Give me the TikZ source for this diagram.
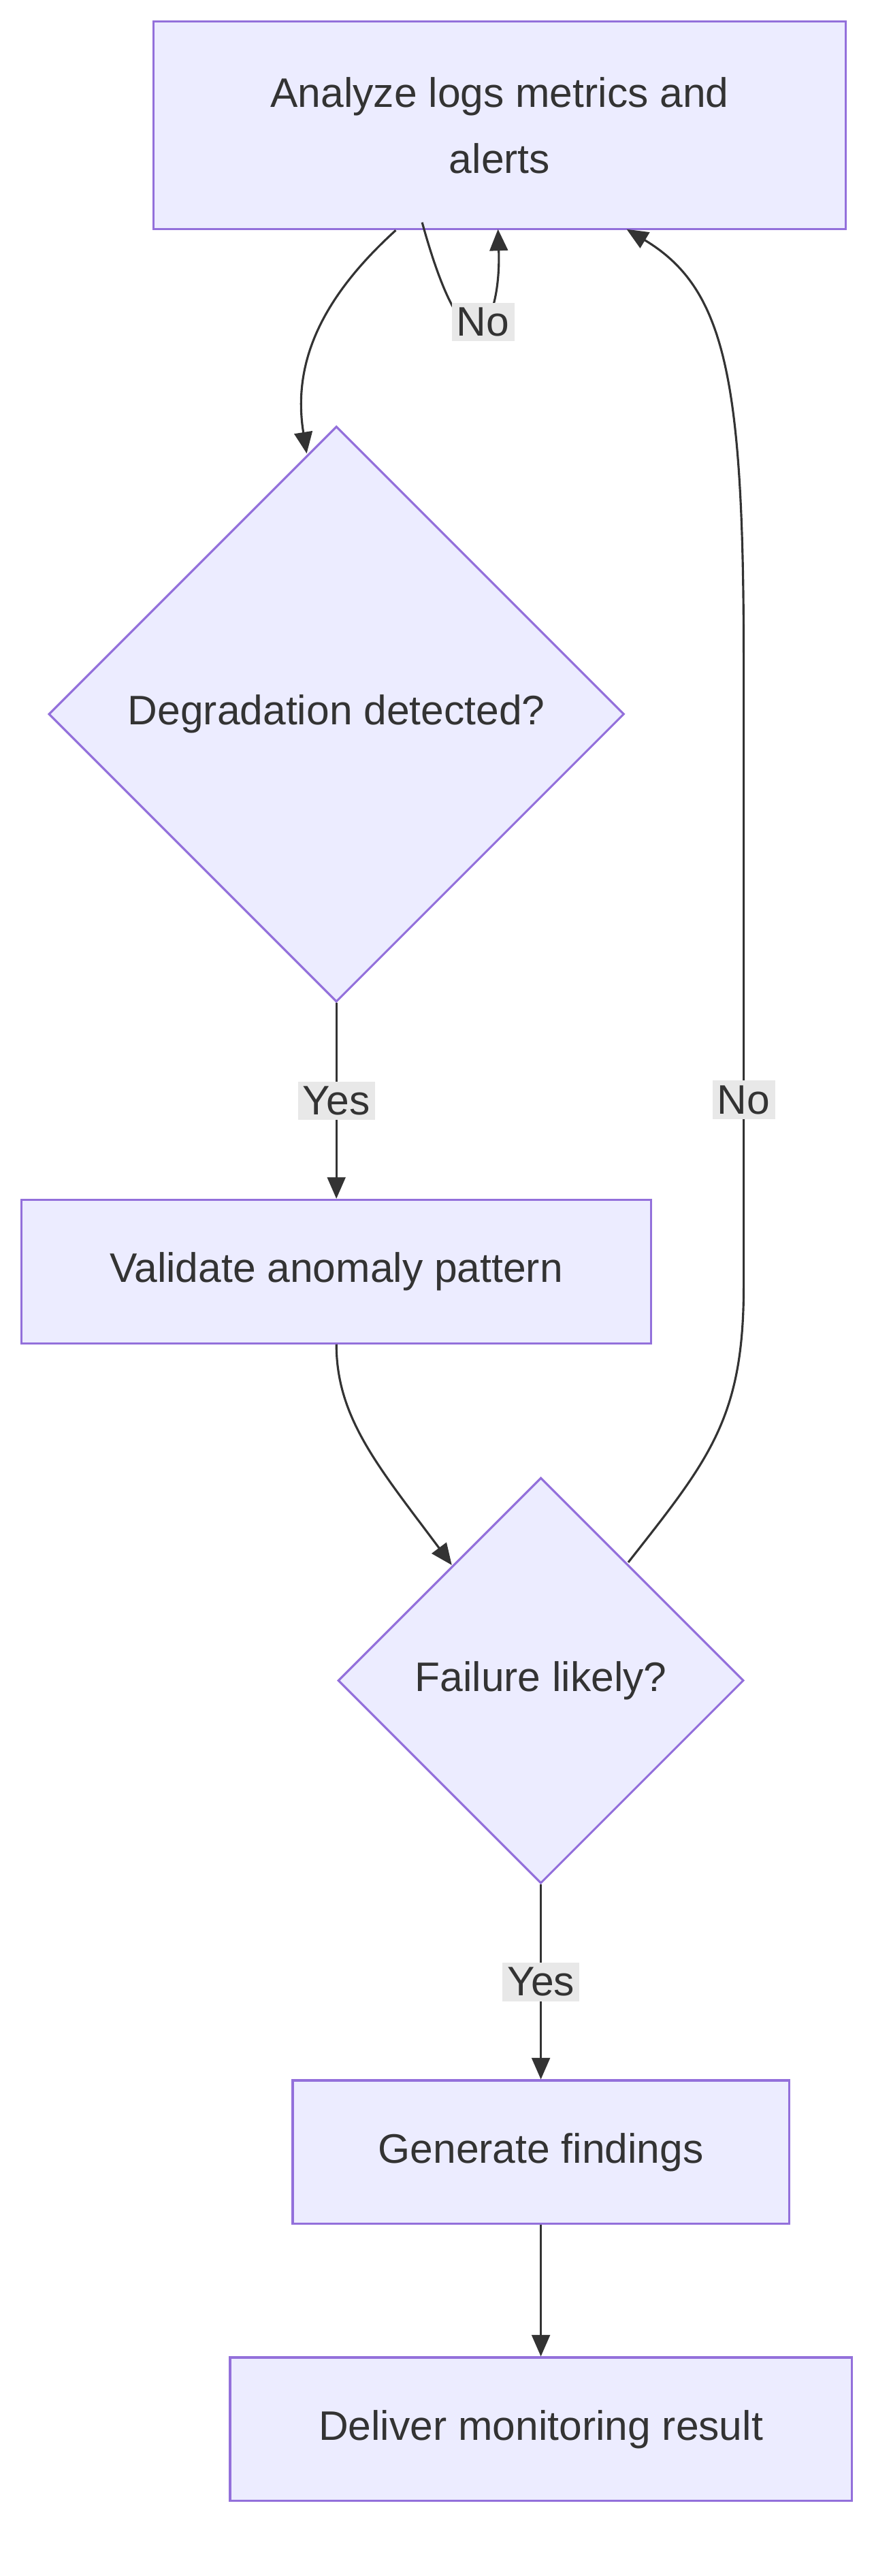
\documentclass[tikz,border=0pt]{standalone}
\usepackage{fontspec}
\setmainfont{Liberation Sans}
\usetikzlibrary{shapes.geometric,arrows.meta}
\definecolor{boxfill}{HTML}{ECECFF}
\definecolor{boxline}{HTML}{9370DB}
\definecolor{ink}{HTML}{333333}
\definecolor{tagfill}{HTML}{E8E8E8}

\begin{document}
\begin{tikzpicture}[
    x=1pt, y=-1pt,
    task/.style={draw=boxline, fill=boxfill, line width=1.3pt, text=ink, font=\fontsize{25}{40}\selectfont, align=center, inner sep=0pt},
    check/.style={task, diamond, aspect=1},
    flow/.style={draw=ink, line width=1.3pt, -{Triangle[length=13pt,width=11pt]}},
    tag/.style={fill=tagfill, text=ink, font=\fontsize{25}{30}\selectfont, inner sep=3pt}
]
    \useasboundingbox (0,0) rectangle (540,1562);
    % Nodes
    \node[task, minimum width=420, minimum height=126] (analyze) at (303,76) {Analyze logs metrics and\\alerts};
    \node[check, minimum width=349, minimum height=349] (degraded) at (204,433) {Degradation detected?};
    \node[task, minimum width=382, minimum height=87] (validate) at (204,771) {Validate anomaly pattern};
    \node[check, minimum width=246, minimum height=246] (likely) at (328,1019) {Failure likely?};
    \node[task, minimum width=301, minimum height=87] (findings) at (328,1305) {Generate findings};
    \node[task, minimum width=377, minimum height=87] (deliver) at (328,1473) {Deliver monitoring result};
    % Edges
    \draw[flow] (analyze.south) ++(-63,0) .. controls (190,185) and (178,225) .. (186,275);
    \draw[flow] (degraded.north) ++(52,-123) .. controls (285,240) and (304,195) .. (302,139)
        node[tag, pos=0.55] {No};
    \draw[flow] (degraded.south) -- node[tag] {Yes} (validate.north);
    \draw[flow] (validate.south) .. controls (204,860) and (230,890) .. (274,949);
    \draw[flow] (likely.north) ++(53,52) .. controls (430,885) and (451,860) .. (451,780)
        -- (451,400) .. controls (451,230) and (440,175) .. (380,139);
    \node[tag] (nolikely) at (451,667) {No};
    \draw[flow] (likely.south) -- node[tag] {Yes} (findings.north);
    \draw[flow] (findings) -- (deliver);
\end{tikzpicture}
\end{document}
